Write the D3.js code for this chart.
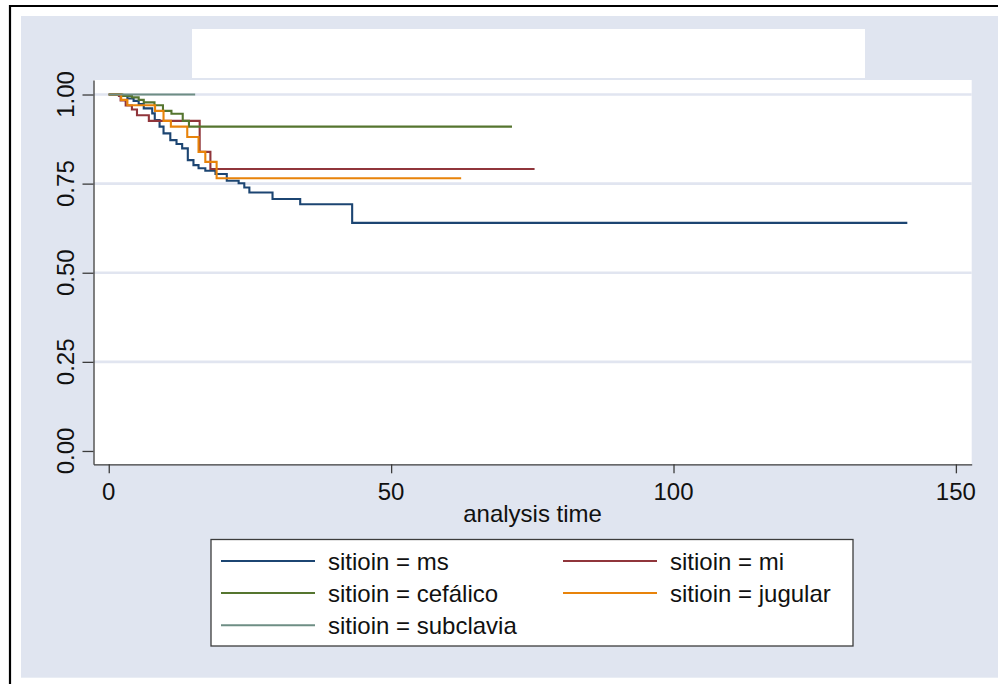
<!DOCTYPE html>
<html>
<head>
<meta charset="utf-8">
<script src="https://cdn.jsdelivr.net/npm/d3@7"></script>
<style>
  body { margin: 0; background: #ffffff; }
  svg { display: block; }
</style>
</head>
<body>
<div id="chart"></div>
<script>
// Kaplan-Meier estimates, one pair of arrays per group
var groups = ["ms", "mi", "cefálico", "jugular", "subclavia"];

var msTime = [0, 2.1, 3.3, 4.4, 5.3, 6.2, 7.7, 8.15, 9.0, 9.7, 10.9, 12.0, 13.0, 14.0, 15.0, 15.9, 17.1, 18.9, 20.9, 23.0, 24.0, 24.9, 29.0, 33.9, 43.1, 141.4];
var msSurv = [1, 0.996, 0.989, 0.982, 0.973, 0.961, 0.947, 0.928, 0.910, 0.891, 0.872, 0.861, 0.849, 0.816, 0.802, 0.793, 0.786, 0.777, 0.758, 0.751, 0.739, 0.725, 0.707, 0.692, 0.640, 0.640];

var miTime = [0, 1.8, 2.1, 3.0, 4.1, 5.0, 7.1, 16.1, 18.0, 75.4];
var miSurv = [1, 0.996, 0.983, 0.969, 0.958, 0.942, 0.926, 0.839, 0.791, 0.791];

var cefTime = [0, 2.4, 4.1, 5.3, 6.2, 8.1, 9.6, 11.1, 13.1, 14.2, 71.4];
var cefSurv = [1, 0.996, 0.992, 0.985, 0.978, 0.970, 0.954, 0.946, 0.926, 0.910, 0.910];

var jugTime = [0, 2.2, 3.3, 8.2, 9.7, 11.0, 13.9, 15.9, 17.1, 19.1, 62.4];
var jugSurv = [1, 0.985, 0.970, 0.954, 0.926, 0.910, 0.881, 0.839, 0.811, 0.765, 0.765];

var subTime = [0, 15.3];
var subSurv = [1, 1];

var xTicks = [0, 50, 100, 150];
var yTicks = [0, 0.25, 0.5, 0.75, 1];
var yTickLabels = ["0.00", "0.25", "0.50", "0.75", "1.00"];
var xTitle = "analysis time";

var colors = ["#1c4572", "#90353b", "#55752f", "#e8830a", "#6e8e84"];

// Size
var W = 998, H = 684,
    font_family = "'Liberation Sans', Arial, Helvetica, sans-serif",
    font_size = 24,
    plot = {left: 93.5, right: 971.7, top: 80, bottom: 464.3};

var series = [
  {name: groups[0], t: msTime, s: msSurv},
  {name: groups[1], t: miTime, s: miSurv},
  {name: groups[2], t: cefTime, s: cefSurv},
  {name: groups[3], t: jugTime, s: jugSurv},
  {name: groups[4], t: subTime, s: subSurv}
];

var xScale = d3.scaleLinear().domain([-2.7, 152.8]).range([plot.left, plot.right]),
    yScale = d3.scaleLinear().domain([-0.0374, 1.0407]).range([plot.bottom, plot.top]);

var svg = d3.select("#chart").append("svg")
  .attr("width", W)
  .attr("height", H);

// Background and frame
svg.append("rect")
  .attr("x", 21).attr("y", 16)
  .attr("width", W - 21).attr("height", 677.7 - 16)
  .attr("fill", "#e0e5f0");

svg.append("path")
  .attr("d", "M10," + H + "V6H" + W)
  .attr("fill", "none")
  .attr("stroke", "#000")
  .attr("stroke-width", 2.2);

// empty title box
svg.append("rect")
  .attr("x", 192).attr("y", 29)
  .attr("width", 865 - 192).attr("height", 78 - 29)
  .attr("fill", "#fff");

// Plot region
svg.append("rect")
  .attr("x", plot.left).attr("y", plot.top)
  .attr("width", plot.right - plot.left).attr("height", plot.bottom - plot.top)
  .attr("fill", "#fff");

// Grid
svg.append("g")
  .selectAll("line")
  .data(yTicks.filter(function(d) { return d > 0; }))
  .enter().append("line")
    .attr("x1", plot.left).attr("x2", plot.right)
    .attr("y1", function(d) { return yScale(d); })
    .attr("y2", function(d) { return yScale(d); })
    .attr("stroke", "#e1e5f0")
    .attr("stroke-width", 2.6);

// Curves
var line = d3.line()
  .x(function(d) { return xScale(d[0]); })
  .y(function(d) { return yScale(d[1]); })
  .curve(d3.curveStepAfter);

svg.append("g")
  .selectAll("path")
  .data(series)
  .enter().append("path")
    .attr("d", function(d) { return line(d.t.map(function(t, i) { return [t, d.s[i]]; })); })
    .attr("fill", "none")
    .attr("stroke", function(d, i) { return colors[i]; })
    .attr("stroke-width", 2.1);

// Axes
svg.append("g")
  .attr("transform", "translate(" + plot.left + ",0)")
  .call(d3.axisLeft(yScale).tickValues(yTicks).tickSize(11).tickSizeOuter(0).tickFormat(""));

svg.append("g")
  .attr("transform", "translate(0," + plot.bottom + ")")
  .call(d3.axisBottom(xScale).tickValues(xTicks).tickSize(9).tickSizeOuter(0).tickFormat(""));

svg.selectAll(".domain, .tick line")
  .attr("stroke", "#3c3c3c")
  .attr("stroke-width", 1.3);

svg.append("g")
  .selectAll("text")
  .data(yTicks)
  .enter().append("text")
    .attr("transform", function(d) { return "translate(65," + yScale(d) + ") rotate(-90)"; })
    .attr("text-anchor", "middle")
    .attr("dy", "0.36em")
    .attr("font-family", font_family)
    .attr("font-size", font_size)
    .attr("fill", "#111")
    .text(function(d, i) { return yTickLabels[i]; });

svg.append("g")
  .selectAll("text")
  .data(xTicks)
  .enter().append("text")
    .attr("x", function(d) { return xScale(d); })
    .attr("y", 491)
    .attr("dy", "0.36em")
    .attr("text-anchor", "middle")
    .attr("font-family", font_family)
    .attr("font-size", font_size)
    .attr("fill", "#111")
    .text(function(d) { return d; });

svg.append("text")
  .attr("x", (plot.left + plot.right) / 2)
  .attr("y", 522)
  .attr("text-anchor", "middle")
  .attr("font-family", font_family)
  .attr("font-size", font_size)
  .attr("fill", "#111")
  .text(xTitle);

// Legend
var legendBox = svg.append("g");
legendBox.append("rect")
  .attr("x", 211).attr("y", 539.5)
  .attr("width", 853 - 211).attr("height", 646 - 539.5)
  .attr("fill", "#fff")
  .attr("stroke", "#3c3c3c")
  .attr("stroke-width", 1.3);

var legendX = [221, 563], legendY = [561, 593, 625.3];

var legend = legendBox.selectAll(".legend")
  .data(groups)
  .enter().append("g")
    .attr("class", "legend")
    .attr("transform", function(d, i) {
      return "translate(" + legendX[i % 2] + "," + legendY[Math.floor(i / 2)] + ")";
    });

legend.append("line")
  .attr("x1", 0).attr("x2", 94)
  .attr("stroke", function(d, i) { return colors[i]; })
  .attr("stroke-width", 2.1);

legend.append("text")
  .attr("x", 107)
  .attr("dy", "0.36em")
  .attr("font-family", font_family)
  .attr("font-size", font_size)
  .attr("fill", "#111")
  .text(function(d) { return "sitioin = " + d; });
</script>
</body>
</html>
